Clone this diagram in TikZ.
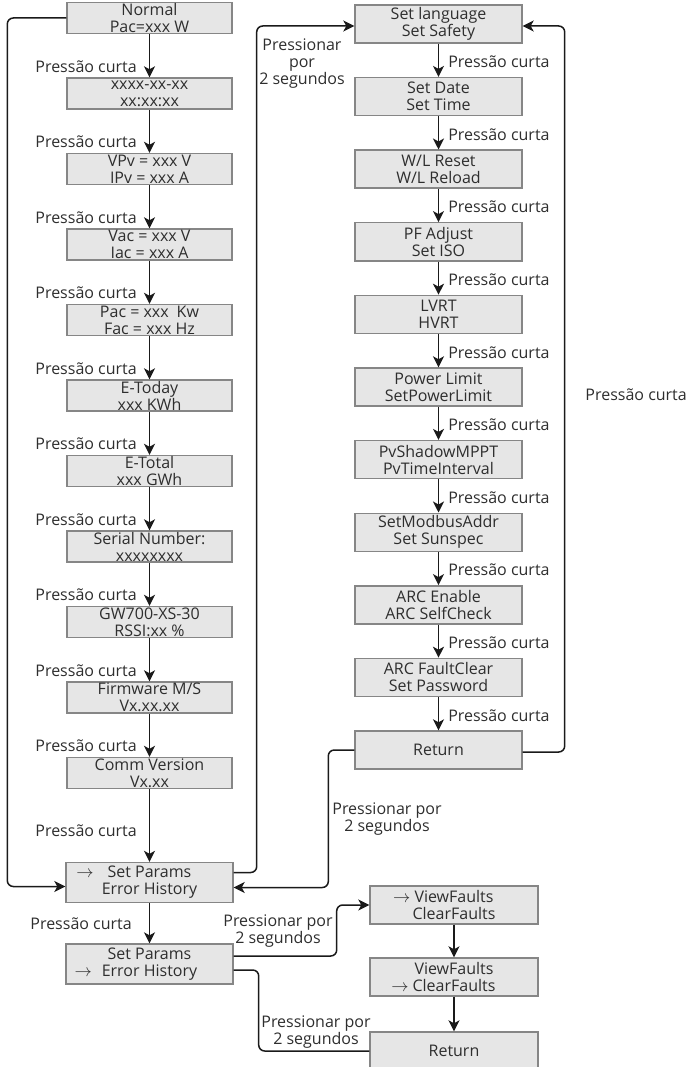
\documentclass[tikz,border=0pt]{standalone}
\usepackage{fontspec}
\setmainfont{Open Sans}
\usetikzlibrary{arrows.meta,positioning,calc}
\definecolor{boxfill}{HTML}{E6E6E6}
\definecolor{boxline}{HTML}{868686}
\definecolor{txt}{HTML}{2E2E2E}
\definecolor{wire}{HTML}{1A1A1A}
\newcommand{\menufont}{\fontsize{16}{17}\selectfont}
\newcommand{\sel}[1]{\makebox[0pt][r]{$\to$\hspace{#1}}}

\begin{document}
\begin{tikzpicture}[x=1pt, y=-1pt,
  menu/.style={draw=boxline, fill=boxfill, line width=1.4pt, minimum width=165pt,
               minimum height=31pt, inner sep=0pt, align=center, font=\menufont, text=txt},
  setup/.style={menu, minimum width=167pt, minimum height=38pt},
  arr/.style={-{Stealth[length=11pt, width=11pt, inset=3pt]}, draw=wire, line width=1.5pt},
  wire/.style={draw=wire, line width=1.5pt},
  lbl/.style={font=\menufont, text=txt, inner sep=0pt, align=center}
]
  \useasboundingbox (0,0) rectangle (689,1067);

  % display menu, left column
  \node[menu] (n0)  at (149.5, 18)    {Normal\\Pac=xxx W};
  \node[menu] (n1)  at (149.5, 93.5)  {xxxx-xx-xx\\xx:xx:xx};
  \node[menu] (n2)  at (149.5, 169)   {VPv = xxx V\\IPv = xxx A};
  \node[menu] (n3)  at (149.5, 244.5) {Vac = xxx V\\Iac = xxx A};
  \node[menu] (n4)  at (149.5, 320)   {Pac = xxx\enspace Kw\\Fac = xxx Hz};
  \node[menu] (n5)  at (149.5, 395.5) {E-Today\\xxx KWh};
  \node[menu] (n6)  at (149.5, 471)   {E-Total\\xxx GWh};
  \node[menu] (n7)  at (149.5, 546.5) {Serial Number:\\xxxxxxxx};
  \node[menu] (n8)  at (149.5, 622)   {GW700-XS-30\\RSSI:xx \%};
  \node[menu] (n9)  at (149.5, 697.5) {Firmware M/S\\Vx.xx.xx};
  \node[menu] (n10) at (149.5, 773)   {Comm Version\\Vx.xx};

  \node[menu, minimum width=167pt, minimum height=40pt] (sp1) at (149.5, 882.5)
    {\sel{14pt}Set Params\\Error History};
  \node[menu, minimum width=167pt, minimum height=40pt] (sp2) at (149.5, 964)
    {Set Params\\\sel{10pt}Error History};

  % setting menu, right column
  \node[setup] (r0)  at (438.5, 24)    {Set language\\Set Safety};
  \node[setup] (r1)  at (438.5, 96.6)  {Set Date\\Set Time};
  \node[setup] (r2)  at (438.5, 169.2) {W/L Reset\\W/L Reload};
  \node[setup] (r3)  at (438.5, 241.8) {PF Adjust\\Set ISO};
  \node[setup] (r4)  at (438.5, 314.4) {LVRT\\HVRT};
  \node[setup] (r5)  at (438.5, 387)   {Power Limit\\SetPowerLimit};
  \node[setup] (r6)  at (438.5, 459.6) {PvShadowMPPT\\PvTimeInterval};
  \node[setup] (r7)  at (438.5, 532.2) {SetModbusAddr\\Set Sunspec};
  \node[setup] (r8)  at (438.5, 604.8) {ARC Enable\\ARC SelfCheck};
  \node[setup] (r9)  at (438.5, 677.4) {ARC FaultClear\\Set Password};
  \node[setup] (r10) at (438.5, 750)   {Return};

  % error history
  \node[setup, minimum width=168pt] (f0) at (454, 905)  {\sel{4pt}ViewFaults\\ClearFaults};
  \node[setup, minimum width=168pt] (f1) at (454, 977)  {ViewFaults\\\sel{4pt}ClearFaults};
  \node[setup, minimum width=168pt] (f2) at (454, 1051) {Return};

  \draw[arr] (n0) -- node[lbl, left=12pt, pos=0.75] {Pressão curta} (n1);
  \draw[arr] (n1) -- node[lbl, left=12pt, pos=0.75] {Pressão curta} (n2);
  \draw[arr] (n2) -- node[lbl, left=12pt, pos=0.75] {Pressão curta} (n3);
  \draw[arr] (n3) -- node[lbl, left=12pt, pos=0.75] {Pressão curta} (n4);
  \draw[arr] (n4) -- node[lbl, left=12pt, pos=0.75] {Pressão curta} (n5);
  \draw[arr] (n5) -- node[lbl, left=12pt, pos=0.75] {Pressão curta} (n6);
  \draw[arr] (n6) -- node[lbl, left=12pt, pos=0.75] {Pressão curta} (n7);
  \draw[arr] (n7) -- node[lbl, left=12pt, pos=0.75] {Pressão curta} (n8);
  \draw[arr] (n8) -- node[lbl, left=12pt, pos=0.75] {Pressão curta} (n9);
  \draw[arr] (n9) -- node[lbl, left=12pt, pos=0.75] {Pressão curta} (n10);
  \draw[arr] (n10) -- node[lbl, left=12pt, pos=0.57] {Pressão curta} (sp1);
  \draw[arr] (sp1) -- node[lbl, left=17pt, pos=0.5] {Pressão curta} (sp2);

  \draw[arr] (r0) -- node[lbl, right=9pt, pos=0.55] {Pressão curta} (r1);
  \draw[arr] (r1) -- node[lbl, right=9pt, pos=0.55] {Pressão curta} (r2);
  \draw[arr] (r2) -- node[lbl, right=9pt, pos=0.55] {Pressão curta} (r3);
  \draw[arr] (r3) -- node[lbl, right=9pt, pos=0.55] {Pressão curta} (r4);
  \draw[arr] (r4) -- node[lbl, right=9pt, pos=0.55] {Pressão curta} (r5);
  \draw[arr] (r5) -- node[lbl, right=9pt, pos=0.55] {Pressão curta} (r6);
  \draw[arr] (r6) -- node[lbl, right=9pt, pos=0.55] {Pressão curta} (r7);
  \draw[arr] (r7) -- node[lbl, right=9pt, pos=0.55] {Pressão curta} (r8);
  \draw[arr] (r8) -- node[lbl, right=9pt, pos=0.55] {Pressão curta} (r9);
  \draw[arr] (r9) -- node[lbl, right=9pt, pos=0.55] {Pressão curta} (r10);

  \draw[arr] (f0) -- (f1);
  \draw[arr] (f1) -- (f2);

  % loops
  \draw[arr, rounded corners=6pt] (n0.west) -- ++(-59,0) |- ([yshift=-4pt]sp1.west);
  \draw[arr, rounded corners=6pt] ([yshift=10pt]sp1.east) -- ++(23,0) |- ([yshift=-2pt]r0.west);
  \draw[arr, rounded corners=6pt] ([yshift=-2pt]r10.east) -- ++(42,0) |- ([yshift=-2pt]r0.east);
  \draw[arr, rounded corners=6pt] (r10.west) -- ++(-26,0) |- ([yshift=-5pt]sp1.east);
  \draw[arr, rounded corners=6pt] ([yshift=8pt]sp2.east) -- ++(103,0) |- (f0.west);
  \draw[wire, rounded corners=6pt] ([yshift=-6pt]sp2.east) -- ++(25,0) |- (f2.west);

  \node[lbl] (hold1) at (302, 64)   {Pressionar\\por\\2 segundos};
  \node[lbl, anchor=east] (next) at (687, 395) {Pressão curta};
  \node[lbl] (hold2) at (387, 819)  {Pressionar por\\2 segundos};
  \node[lbl] (hold3) at (278, 931)  {Pressionar por\\2 segundos};
  \node[lbl] (hold4) at (316, 1032) {Pressionar por\\2 segundos};
\end{tikzpicture}
\end{document}
